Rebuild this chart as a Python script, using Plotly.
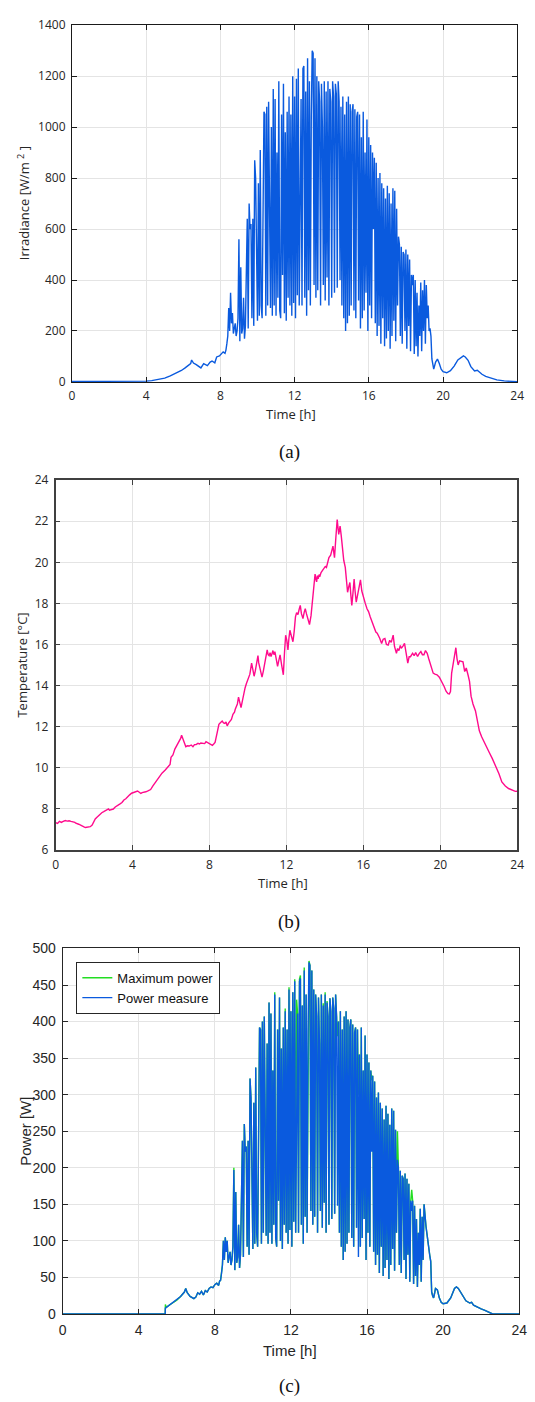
import plotly.graph_objects as go

# ---------------- DATA ----------------
hour_ticks = [0, 4, 8, 12, 16, 20, 24]

# (a) Irradiance
time_low_a = [0, 1, 2, 3, 4.0, 4.3, 4.6, 5.0, 5.3, 5.6, 5.9, 6.1, 6.3, 6.4, 6.45, 6.55, 6.7, 6.85,
              6.95, 7.1, 7.2, 7.3, 7.45, 7.55, 7.7, 7.8, 7.95, 8.05, 8.15, 8.25]
irr_low_a = [2, 2, 2, 2, 3, 5, 9, 15, 24, 33, 45, 55, 65, 72, 86, 74, 68, 60,
             55, 72, 68, 64, 78, 82, 75, 98, 102, 110, 118, 112]

time_rough = [
    8.30, 8.35, 8.40, 8.45, 8.50, 8.55, 8.60, 8.65, 8.70, 8.75, 8.80, 8.85, 8.90, 8.95,
    9.00, 9.05, 9.10, 9.15, 9.20, 9.25, 9.30, 9.35, 9.40, 9.45, 9.50, 9.55, 9.60, 9.65, 9.70, 9.75, 9.80, 9.85, 9.90, 9.95,
    10.00, 10.05, 10.10, 10.15, 10.20, 10.25, 10.30, 10.35, 10.40, 10.45, 10.50, 10.55, 10.60, 10.65, 10.70, 10.75, 10.80, 10.85, 10.90, 10.95,
    11.00, 11.05, 11.10, 11.15, 11.20, 11.25, 11.30, 11.35, 11.40, 11.45, 11.50, 11.55, 11.60, 11.65, 11.70, 11.75, 11.80, 11.85, 11.90, 11.95,
    12.00, 12.05, 12.10, 12.15, 12.20, 12.25, 12.30, 12.35, 12.40, 12.45, 12.50, 12.55, 12.60, 12.65, 12.70, 12.75, 12.80, 12.85, 12.90, 12.95,
    13.00, 13.05, 13.10, 13.15, 13.20, 13.25, 13.30, 13.35, 13.40, 13.45, 13.50, 13.55, 13.60, 13.65, 13.70, 13.75, 13.80, 13.85, 13.90, 13.95,
    14.00, 14.05, 14.10, 14.15, 14.20, 14.25, 14.30, 14.35, 14.40, 14.45, 14.50, 14.55, 14.60, 14.65, 14.70, 14.75, 14.80, 14.85, 14.90, 14.95,
    15.00, 15.05, 15.10, 15.15, 15.20, 15.25, 15.30, 15.35, 15.40, 15.45, 15.50, 15.55, 15.60, 15.65, 15.70, 15.75, 15.80, 15.85, 15.90, 15.95,
    16.00, 16.05, 16.10, 16.15, 16.20, 16.25, 16.30, 16.35, 16.40, 16.45, 16.50, 16.55, 16.60, 16.65, 16.70, 16.75, 16.80, 16.85, 16.90, 16.95,
    17.00, 17.05, 17.10, 17.15, 17.20, 17.25, 17.30, 17.35, 17.40, 17.45, 17.50, 17.55, 17.60, 17.65, 17.70, 17.75, 17.80, 17.85, 17.90, 17.95,
    18.00, 18.05, 18.10, 18.15, 18.20, 18.25, 18.30, 18.35, 18.40, 18.45, 18.50, 18.55, 18.60, 18.65, 18.70, 18.75, 18.80, 18.85, 18.90, 18.95,
    19.00, 19.05, 19.10, 19.15, 19.20, 19.25, 19.30, 19.35, 19.40, 19.45, 19.50]

irr_rough_a = [
    125, 150, 180, 290, 200, 350, 230, 270, 190, 210, 230, 180, 200, 250,
    560, 160, 450, 190, 210, 330, 170, 220, 520, 640, 210, 700, 600, 620, 250, 640, 220, 870, 800, 350,
    240, 780, 260, 910, 300, 250, 830, 1060, 1050, 260, 1080, 300, 1100, 450, 290, 1000, 260, 1150, 300, 1110,
    260, 900, 330, 1180, 280, 250, 1050, 420, 1170, 270, 980, 240, 1060, 330, 1120, 300, 1050, 260, 1200, 310,
    1120, 250, 1190, 340, 1230, 300, 740, 1110, 300, 1230, 1240, 330, 1140, 260, 1270, 360, 1180, 300, 1040, 1300,
    1290, 380, 1270, 330, 1200, 360, 1180, 1100, 300, 1170, 1000, 380, 1180, 320, 1140, 410, 1180, 300, 1150, 1100,
    330, 1180, 1120, 350, 1170, 1130, 370, 1180, 1100, 400, 1080, 300, 1120, 250, 1050, 200, 1100, 230, 1120, 260,
    1090, 300, 1060, 1090, 280, 1070, 250, 1040, 1060, 320, 1050, 210, 960, 250, 1060, 280, 900, 350, 1030, 200,
    960, 300, 930, 250, 900, 600, 880, 230, 860, 180, 800, 220, 820, 150, 780, 250, 760, 140, 720, 170,
    770, 200, 740, 130, 700, 180, 760, 240, 750, 160, 680, 300, 570, 540, 180, 530, 150, 510, 500, 200,
    520, 130, 500, 220, 480, 120, 420, 380, 420, 110, 400, 140, 350, 100, 300, 180, 390, 120, 360, 200,
    400, 150, 380, 250, 300, 200, 210, 180, 90, 60, 50]

time_tail_a = [19.6, 19.7, 19.8, 19.9, 20.0, 20.2, 20.4, 20.6, 20.8, 21.0, 21.1, 21.2, 21.35, 21.5,
               21.7, 21.85, 21.95, 22.1, 22.3, 22.6, 22.9, 23.3, 23.7, 24.0]
irr_tail_a = [78, 90, 72, 50, 40, 36, 44, 62, 86, 98, 102, 98, 85, 60,
              43, 46, 38, 30, 22, 14, 8, 4, 2, 1]

# (b) Temperature, in 4-hour segments
time_b_00 = [0, 0.1, 0.2, 0.3, 0.37, 0.45, 0.5, 0.6, 0.7, 0.8, 0.9, 1.0, 1.05, 1.15, 1.2, 1.3, 1.4, 1.5,
             1.55, 1.65, 1.8, 1.9, 1.95, 2.06, 2.15, 2.25, 2.4, 2.5, 2.65, 2.75, 2.8, 2.9, 3.0, 3.1,
             3.2, 3.33, 3.45, 3.55, 3.65, 3.75, 3.85, 3.95]
temp_b_00 = [7.32, 7.28, 7.38, 7.33, 7.37, 7.40, 7.42, 7.39, 7.41, 7.38, 7.36, 7.33, 7.29, 7.27, 7.24, 7.20, 7.13, 7.10,
             7.08, 7.09, 7.12, 7.20, 7.30, 7.50, 7.58, 7.68, 7.80, 7.85, 7.96, 7.99, 7.92, 7.94, 7.98, 8.08,
             8.13, 8.22, 8.30, 8.42, 8.48, 8.60, 8.67, 8.75]
time_b_04 = [4.0, 4.1, 4.15, 4.26, 4.35, 4.43, 4.5, 4.55, 4.69, 4.8, 4.94, 5.05, 5.2, 5.35, 5.53, 5.7, 5.87, 5.95,
             6.0, 6.1, 6.2, 6.3, 6.43, 6.5, 6.55, 6.6, 6.63, 6.7, 6.77, 6.85, 6.95, 7.05, 7.14, 7.22,
             7.3, 7.4, 7.48, 7.55, 7.65, 7.75, 7.82, 7.9, 7.95]
temp_b_04 = [8.77, 8.80, 8.82, 8.86, 8.80, 8.74, 8.78, 8.80, 8.82, 8.86, 8.93, 9.10, 9.30, 9.52, 9.73, 9.88, 10.05, 10.15,
             10.50, 10.62, 10.90, 11.05, 11.30, 11.42, 11.58, 11.45, 11.28, 11.10, 11.02, 11.06, 11.05, 11.10, 11.02, 11.12,
             11.12, 11.18, 11.15, 11.20, 11.20, 11.17, 11.26, 11.22, 11.18]
time_b_08 = [8.07, 8.15, 8.22, 8.29, 8.4, 8.49, 8.58, 8.66, 8.73, 8.8, 8.86, 8.92, 9.0, 9.05, 9.14, 9.22, 9.3, 9.34,
             9.4, 9.45, 9.51, 9.57, 9.64, 9.7, 9.78, 9.85, 9.92, 9.98, 10.05, 10.1, 10.15, 10.19, 10.25, 10.32,
             10.38, 10.45, 10.52, 10.56, 10.6, 10.66, 10.73, 10.8, 10.85, 10.92, 11.0, 11.05, 11.1, 11.15, 11.2,
             11.25, 11.3, 11.35, 11.4, 11.47, 11.54, 11.6, 11.67, 11.75, 11.84, 11.9, 11.96]
temp_b_08 = [11.12, 11.08, 11.15, 11.23, 11.70, 12.11, 12.20, 12.27, 12.18, 12.15, 12.22, 12.03, 12.18, 12.25, 12.35, 12.60, 12.70, 12.84,
             13.00, 13.10, 13.43, 13.15, 12.92, 13.20, 13.60, 13.88, 14.10, 14.28, 14.40, 14.55, 14.85, 15.09, 14.80, 14.45,
             14.70, 15.00, 15.46, 15.10, 14.90, 14.60, 14.41, 14.70, 14.95, 15.30, 15.73, 15.50, 15.45, 15.60, 15.41,
             15.55, 15.70, 15.50, 15.65, 15.30, 14.93, 15.20, 15.49, 15.00, 14.52, 15.60, 16.45]
time_b_12 = [12.02, 12.08, 12.13, 12.18, 12.26, 12.34, 12.4, 12.47, 12.53, 12.6, 12.66, 12.72, 12.78, 12.86, 12.92, 12.98,
             13.04, 13.1, 13.15, 13.2, 13.28, 13.35, 13.42, 13.49, 13.53, 13.57, 13.61, 13.65, 13.7, 13.75, 13.8,
             13.87, 13.95, 14.02, 14.08, 14.15, 14.21, 14.3, 14.36, 14.42, 14.46, 14.5, 14.57, 14.64, 14.68, 14.72,
             14.76, 14.79, 14.85, 14.92, 14.98, 15.06, 15.12, 15.18, 15.24, 15.3, 15.35, 15.4, 15.46, 15.52, 15.57,
             15.63, 15.7, 15.75, 15.8, 15.85, 15.92]
temp_b_12 = [16.20, 15.73, 16.30, 16.69, 16.40, 16.13, 16.60, 17.34, 17.55, 17.45, 17.70, 17.90, 17.50, 17.26, 17.55, 17.74,
             17.50, 17.30, 17.10, 16.97, 17.40, 18.06, 18.90, 19.43, 19.20, 19.05, 19.35, 19.19, 19.40, 19.35, 19.50,
             19.59, 19.65, 19.80, 19.75, 19.95, 20.23, 20.35, 20.60, 20.79, 20.50, 20.23, 21.20, 22.08, 21.70, 21.36,
             21.60, 21.76, 21.30, 20.55, 20.10, 19.75, 18.90, 18.54, 18.80, 19.02, 18.40, 17.90, 18.50, 19.19, 18.60,
             18.06, 18.40, 18.60, 18.90, 19.15, 18.60]
time_b_16 = [16.02, 16.1, 16.19, 16.27, 16.36, 16.45, 16.52, 16.58, 16.65, 16.72, 16.78, 16.85, 16.95, 17.03, 17.12,
             17.2, 17.29, 17.37, 17.45, 17.55, 17.62, 17.72, 17.78, 17.85, 17.92, 17.97, 18.05, 18.14, 18.22, 18.31,
             18.38, 18.45, 18.56, 18.64, 18.72, 18.82, 18.9, 18.99, 19.07, 19.15, 19.23, 19.32, 19.4, 19.49, 19.56,
             19.63, 19.72, 19.83, 19.95]
temp_b_16 = [18.22, 18.00, 17.74, 17.60, 17.34, 17.10, 17.00, 16.77, 16.60, 16.55, 16.45, 16.30, 16.05, 16.25, 16.29,
             16.00, 15.97, 16.20, 16.10, 16.45, 15.90, 15.57, 15.80, 15.70, 15.95, 15.81, 15.90, 16.05, 15.60, 15.09,
             15.40, 15.40, 15.57, 15.45, 15.60, 15.41, 15.55, 15.65, 15.50, 15.50, 15.70, 15.57, 15.30, 15.00, 14.75,
             14.60, 14.55, 14.52, 14.40]
time_b_20 = [20.08, 20.2, 20.3, 20.4, 20.47, 20.53, 20.59, 20.65, 20.71, 20.76, 20.81, 20.87, 20.93, 21.0, 21.1,
             21.18, 21.27, 21.35, 21.44, 21.52, 21.6, 21.7, 21.83, 21.93, 22.03, 22.15, 22.28, 22.4, 22.54, 22.7,
             22.88, 23.05, 23.2, 23.38, 23.55, 23.7, 23.8, 23.9, 24.0]
temp_b_20 = [14.20, 13.95, 13.72, 13.60, 13.59, 13.70, 14.60, 15.00, 15.33, 15.55, 15.84, 15.30, 15.00, 15.20, 15.17,
             15.15, 14.68, 14.85, 14.52, 14.20, 13.48, 13.10, 12.76, 12.20, 11.79, 11.50, 11.23, 11.00, 10.75, 10.45,
             10.10, 9.70, 9.30, 9.10, 8.98, 8.92, 8.90, 8.84, 8.85]

# (c) Power
time_low_c = [0, 5.39, 5.40, 5.45, 5.6, 5.8, 6.0, 6.2, 6.4, 6.47, 6.55, 6.7, 6.9, 7.0, 7.1, 7.2, 7.3, 7.4,
              7.5, 7.6, 7.7, 7.8, 7.9, 8.0, 8.1, 8.2, 8.25]
measure_low_c = [0, 0, 8, 9, 12, 15, 19, 24, 30, 35, 29, 24, 21, 23, 29, 27, 31, 26,
                 32, 30, 35, 37, 36, 40, 42, 39, 45]
max_low_c = [0, 0, 13, 9, 12, 15, 19, 24, 30, 35, 29, 24, 21, 23, 29, 27, 31, 26,
             32, 30, 35, 37, 36, 40, 42, 39, 45]

measure_rough_c = [
    46, 55, 67, 100, 74, 105, 85, 100, 70, 78, 85, 67, 74, 92,
    197, 60, 167, 70, 78, 122, 63, 81, 192, 237, 78, 260, 222, 229, 92, 237, 81, 322, 296, 130,
    89, 289, 96, 337, 111, 92, 307, 392, 389, 96, 400, 111, 407, 167, 107, 370, 96, 426, 111, 411,
    96, 333, 122, 437, 104, 92, 389, 155, 433, 100, 363, 89, 392, 122, 414, 111, 389, 96, 444, 115,
    414, 92, 440, 126, 455, 111, 274, 411, 111, 455, 459, 122, 422, 96, 470, 133, 437, 111, 385, 481,
    477, 141, 470, 122, 444, 133, 437, 407, 111, 433, 370, 141, 437, 118, 422, 152, 437, 111, 426, 407,
    122, 432, 414, 130, 433, 418, 137, 437, 407, 148, 400, 111, 414, 92, 389, 74, 407, 85, 414, 96,
    403, 111, 392, 403, 104, 396, 92, 385, 392, 118, 389, 78, 355, 92, 392, 104, 333, 130, 381, 74,
    355, 111, 344, 92, 333, 222, 326, 85, 318, 67, 296, 81, 303, 56, 289, 92, 281, 52, 266, 63,
    285, 74, 274, 48, 259, 67, 281, 89, 278, 59, 252, 111, 211, 200, 67, 196, 56, 189, 185, 74,
    192, 48, 185, 81, 178, 44, 155, 141, 155, 41, 148, 52, 130, 37, 111, 67, 144, 44, 133, 74,
    150, 130, 120, 110, 98, 88, 80, 72, 30, 25, 22]

max_rough_c = [
    46, 55, 67, 100, 74, 105, 85, 100, 70, 78, 85, 67, 74, 92,
    200, 60, 167, 70, 78, 122, 63, 81, 192, 237, 78, 260, 222, 229, 92, 237, 81, 322, 296, 130,
    89, 289, 96, 337, 111, 92, 307, 392, 389, 96, 400, 111, 407, 167, 107, 370, 96, 426, 111, 411,
    96, 333, 122, 440, 104, 92, 389, 155, 433, 100, 363, 89, 392, 122, 418, 111, 389, 96, 447, 115,
    414, 92, 440, 126, 458, 111, 430, 411, 111, 458, 463, 122, 422, 96, 474, 133, 437, 111, 385, 483,
    477, 141, 470, 122, 444, 133, 437, 407, 111, 433, 370, 141, 437, 118, 425, 152, 440, 111, 428, 407,
    122, 432, 414, 130, 433, 418, 137, 437, 407, 380, 400, 111, 414, 92, 389, 74, 407, 85, 414, 96,
    403, 111, 392, 403, 104, 396, 92, 385, 392, 118, 389, 300, 355, 92, 392, 104, 333, 130, 381, 74,
    355, 111, 344, 92, 333, 320, 326, 85, 318, 67, 296, 81, 303, 56, 289, 92, 281, 52, 266, 63,
    285, 74, 274, 48, 259, 67, 281, 89, 278, 59, 252, 111, 250, 200, 67, 196, 56, 189, 185, 74,
    192, 48, 185, 81, 178, 44, 155, 170, 155, 41, 148, 52, 130, 37, 111, 67, 144, 44, 133, 74,
    150, 130, 120, 110, 98, 88, 80, 72, 30, 25, 22]

time_tail_c = [19.55, 19.6, 19.7, 19.8, 19.9, 20.0, 20.2, 20.4, 20.6, 20.7, 20.8, 21.0, 21.2, 21.4,
               21.5, 21.6, 21.8, 22.0, 22.2, 22.4, 22.6, 24.0]
power_tail_c = [28, 35, 33, 22, 16, 14, 15, 22, 35, 37, 35, 27, 18, 15,
                16, 12, 9, 7, 5, 3, 0, 0]

# ---------------- FIGURE ----------------
W, H = 535, 1402
BLUE = "#0a5ade"
GREEN = "#22dd22"
PINK = "#ff0a8c"


def fx(p):
    return p / W


def fy(p):
    return 1 - p / H


time_a = time_low_a + time_rough + time_tail_a
irr_a = irr_low_a + irr_rough_a + irr_tail_a
time_b = time_b_00 + time_b_04 + time_b_08 + time_b_12 + time_b_16 + time_b_20
temp_b = temp_b_00 + temp_b_04 + temp_b_08 + temp_b_12 + temp_b_16 + temp_b_20
time_c = time_low_c + time_rough + time_tail_c
measure_c = measure_low_c + measure_rough_c + power_tail_c
max_c = max_low_c + max_rough_c + power_tail_c

fig = go.Figure()
fig.add_trace(go.Scatter(x=time_a, y=irr_a, mode="lines", line=dict(color=BLUE, width=1.4),
                         xaxis="x", yaxis="y", showlegend=False))
fig.add_trace(go.Scatter(x=time_b, y=temp_b, mode="lines", line=dict(color=PINK, width=1.4),
                         xaxis="x2", yaxis="y2", showlegend=False))
fig.add_trace(go.Scatter(x=time_c, y=max_c, mode="lines", line=dict(color=GREEN, width=1.4),
                         xaxis="x3", yaxis="y3", name="Maximum power"))
fig.add_trace(go.Scatter(x=time_c, y=measure_c, mode="lines", line=dict(color=BLUE, width=1.4),
                         xaxis="x3", yaxis="y3", name="Power measure"))


def ax(domain, rng, tickvals, font, linecolor, lw, anchor):
    return dict(domain=domain, range=rng, tickvals=tickvals, anchor=anchor,
                showline=True, linecolor=linecolor, linewidth=lw, mirror="ticks",
                ticks="inside", ticklen=5, tickcolor=linecolor, tickwidth=1,
                showgrid=True, gridcolor="#e4e4e4", gridwidth=1, zeroline=False,
                tickfont=font, ticklabelstandoff=3, ticklabeloverflow="allow")


fontAB = dict(family="Open Sans", size=12, color="#262626")
fontC = dict(family="Liberation Sans, Arial", size=14, color="#262626")

fig.update_layout(
    width=W, height=H, margin=dict(l=0, r=0, t=0, b=0),
    paper_bgcolor="white", plot_bgcolor="white",
    xaxis=ax([fx(69.5), fx(525)], [0, 24], hour_ticks, fontAB, "#1a1a1a", 1, "y"),
    yaxis=ax([fy(377.5), fy(16.4)], [0, 1400], list(range(0, 1401, 200)), fontAB, "#1a1a1a", 1, "x"),
    xaxis2=ax([fx(52.8), fx(525)], [0, 24], hour_ticks, fontAB, "#404040", 1.5, "y2"),
    yaxis2=ax([fy(851), fy(477)], [6, 24], list(range(6, 25, 2)), fontAB, "#404040", 1.5, "x2"),
    xaxis3=ax([fx(60), fx(527)], [0, 24], hour_ticks, fontC, "#262626", 1, "y3"),
    yaxis3=ax([fy(1321), fy(951)], [0, 500], list(range(0, 501, 50)), fontC, "#262626", 1, "x3"),
    legend=dict(x=fx(74), y=fy(964.5), xanchor="left", yanchor="top",
                bgcolor="white", bordercolor="#262626", borderwidth=1,
                font=dict(family="Liberation Sans, Arial", size=13, color="#111111"),
                tracegroupgap=0, itemwidth=30),
)

ann = []


def add_text(text, x, y, font, angle=0):
    ann.append(dict(text=text, x=fx(x), y=fy(y), xref="paper", yref="paper",
                    xanchor="center", yanchor="middle", showarrow=False,
                    textangle=angle, font=font))


titleAB = dict(family="Open Sans", size=13, color="#262626")
titleC = dict(family="Liberation Sans, Arial", size=15, color="#262626")
capt = dict(family="Liberation Serif, Times New Roman", size=19, color="#111111")

add_text("Irradiance [W/m <sup>2</sup> ]", 20, 197, titleAB, -90)
add_text("Time [h]", 294, 410, titleAB)
add_text("(a)", 292, 448, capt)
add_text("Temperature [°C]", 18, 664, titleAB, -90)
add_text("Time [h]", 285, 885, titleAB)
add_text("(b)", 292, 924, capt)
add_text("Power [W]", 22, 1136, titleC, -90)
add_text("Time [h]", 293, 1358, titleC)
add_text("(c)", 292, 1394, capt)

fig.update_layout(annotations=ann)
fig.write_html("out.html", config={"displayModeBar": False},
               post_script="document.body.style.margin='0px';")
